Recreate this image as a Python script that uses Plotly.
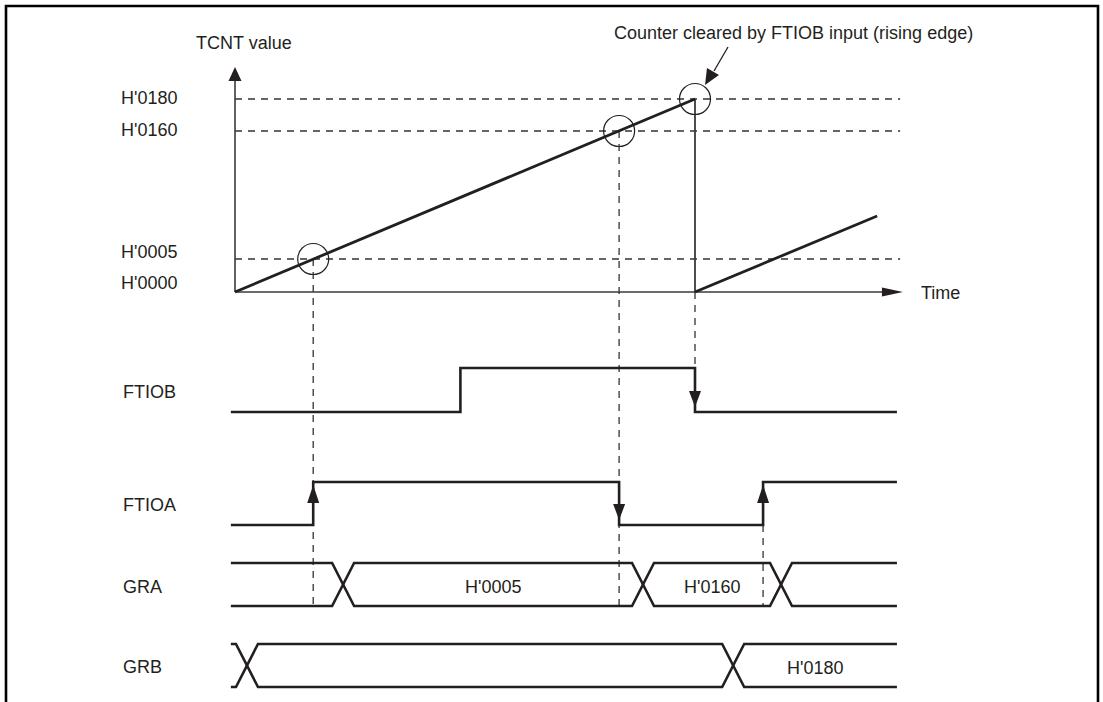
import plotly.graph_objects as go

# ---------------- data (schematic time units; 0 = counter start, 100 = counter clear) ----------------
T_START = -0.9
T_END = 143.9
T_AXIS_END = 145.2

# TCNT counter waveform (time, display level)
tcnt_time = [0, 100, 100, 139.6]
tcnt_level = [292, 99, 292, 216]          # display level of H'0000 ... H'0180
tcnt_labels = ["H'0180", "H'0160", "H'0005", "H'0000"]
tcnt_label_levels = [99, 131, 259, 292]
ref_levels = [99, 131, 259]                # dashed reference lines

# compare-match / clear events
match_times = [17, 83.5, 100]              # H'0005 match, H'0160 match, clear by FTIOB
match_levels = [259, 131, 99]

# FTIOB input
ftiob_time = [T_START, 49, 49, 100, 100, T_END]
ftiob_state = [0, 0, 1, 1, 0, 0]
# FTIOA output
ftioa_time = [T_START, 17, 17, 83.5, 83.5, 114.8, 114.8, T_END]
ftioa_state = [0, 0, 1, 1, 0, 0, 1, 1]

# bus transitions
gra_cross = [23.5, 88.7, 118.7]
gra_values = ["", "H'0005", "H'0160", ""]
grb_cross = [2.6, 108.3]
grb_values = ["", "", "H'0180"]

signal_names = ["FTIOB", "FTIOA", "GRA", "GRB"]

# ---------------- layout constants ----------------
W, H = 1103, 702
PXU = 4.6                  # pixels per time unit
X0PX = 235                 # pixel of t = 0
xr = [-X0PX / PXU, (W - X0PX) / PXU]
INK = "#231f20"
DASH_C = "#333333"
FONT = dict(family="Liberation Sans, Arial, Helvetica, sans-serif", size=18, color=INK)

ROW = {"FTIOB": (412, 368), "FTIOA": (525, 482), "GRA": (563, 606), "GRB": (644, 687)}
LABEL_Y = {"FTIOB": 392, "FTIOA": 505, "GRA": 587, "GRB": 667}
XH = 11 / PXU              # half-width of bus crossing


def tu(px):
    return px / PXU


fig = go.Figure()
shapes = []
annotations = []
DASH = dict(color=DASH_C, width=1.3, dash="7px,6px")

# dashed reference lines
for lv in ref_levels:
    fig.add_trace(go.Scatter(x=[0, 144.6], y=[lv, lv], mode="lines", line=DASH, hoverinfo="skip"))

# vertical dashed event lines
vd = [(17, 259, 606), (83.5, 131, 606), (100, 292, 368), (114.8, 525, 606)]
for t, y0, y1 in vd:
    fig.add_trace(go.Scatter(x=[t, t], y=[y0, y1], mode="lines", line=DASH, hoverinfo="skip"))

# axes
fig.add_trace(go.Scatter(x=[0, 0, None, 0, T_AXIS_END - tu(18)], y=[292, 80, None, 292, 292], mode="lines",
                         line=dict(color="#3a3a3a", width=1.6), hoverinfo="skip"))
# axis arrowheads
shapes.append(dict(type="path", xref="x", yref="y",
                   path=f"M {0} 67 L {tu(-6.5)} 81 L {tu(6.5)} 81 Z", fillcolor=INK, line=dict(width=0)))
shapes.append(dict(type="path", xref="x", yref="y",
                   path=f"M {T_AXIS_END} 292 L {T_AXIS_END - tu(21)} 287.5 L {T_AXIS_END - tu(21)} 296.5 Z",
                   fillcolor=INK, line=dict(width=0)))

# counter drop (thinner) and ramps
fig.add_trace(go.Scatter(x=[100, 100], y=[99, 292], mode="lines",
                         line=dict(color="#3a3a3a", width=1.8), hoverinfo="skip"))
fig.add_trace(go.Scatter(x=[tcnt_time[0], tcnt_time[1], None, tcnt_time[2], tcnt_time[3]],
                         y=[tcnt_level[0], tcnt_level[1], None, tcnt_level[2], tcnt_level[3]],
                         mode="lines", line=dict(color=INK, width=2.8), hoverinfo="skip"))

# circles at match points
R = 15.5
for t, lv in zip(match_times, match_levels):
    shapes.append(dict(type="circle", xref="x", yref="y", x0=t - tu(R), x1=t + tu(R), y0=lv - R, y1=lv + R,
                       line=dict(color=INK, width=1.2)))

# TCNT level labels
for lab, lv in zip(tcnt_labels, tcnt_label_levels):
    off = {"H'0000": -9, "H'0005": -7, "H'0160": -1, "H'0180": -1}[lab]
    annotations.append(dict(x=tu(179 - X0PX), y=lv + off, text=lab, showarrow=False, xanchor="right",
                            yanchor="middle", font=FONT))

annotations.append(dict(x=tu(244 - X0PX), y=43, text="TCNT value", showarrow=False, xanchor="center",
                        yanchor="middle", font=FONT))
annotations.append(dict(x=tu(919 - X0PX), y=293, text="Time", showarrow=False, xanchor="left",
                        yanchor="middle", font=FONT))
annotations.append(dict(x=tu(612 - X0PX), y=33, text="Counter cleared by FTIOB input (rising edge)",
                        showarrow=False, xanchor="left", yanchor="middle", font=FONT))
# pointer to clear point
fig.add_trace(go.Scatter(x=[tu(728 - X0PX), tu(714 - X0PX)], y=[47, 71], mode="lines",
                         line=dict(color=INK, width=1.3), hoverinfo="skip"))
tipx, tipy = tu(705 - X0PX), 85
shapes.append(dict(type="path", xref="x", yref="y",
                   path=f"M {tipx} {tipy} L {tu(707 - X0PX)} 68 L {tu(719 - X0PX)} 75 Z",
                   fillcolor=INK, line=dict(width=0)))

# digital signals
for name, times, states in [("FTIOB", ftiob_time, ftiob_state), ("FTIOA", ftioa_time, ftioa_state)]:
    lo, hi = ROW[name]
    ys = [hi if s else lo for s in states]
    fig.add_trace(go.Scatter(x=times, y=ys, mode="lines", line=dict(color=INK, width=2.6),
                             hoverinfo="skip"))
    # edge arrows on events triggered by counter
    for i in range(1, len(times)):
        if times[i] == times[i - 1] and times[i] in match_times + [114.8]:
            t = times[i]
            up = states[i] > states[i - 1]
            if up:
                tip = hi + 3
                base = tip + 18
            else:
                tip = lo - 5
                base = tip - 16
            shapes.append(dict(type="path", xref="x", yref="y",
                               path=f"M {t} {tip} L {t - tu(6)} {base} L {t + tu(6)} {base} Z",
                               fillcolor=INK, line=dict(width=0)))


# bus signals
def bus(name, cross, values):
    top, bot = ROW[name]
    la_x, la_y, lb_x, lb_y = [T_START], [top], [T_START], [bot]
    cur_a, cur_b = top, bot
    for c in cross:
        la_x += [c - XH, c + XH]
        la_y += [cur_a, cur_b]
        lb_x += [c - XH, c + XH]
        lb_y += [cur_b, cur_a]
        cur_a, cur_b = cur_b, cur_a
    la_x.append(T_END); la_y.append(cur_a)
    lb_x.append(T_END); lb_y.append(cur_b)
    fig.add_trace(go.Scatter(x=la_x + [None] + lb_x, y=la_y + [None] + lb_y, mode="lines",
                             line=dict(color=INK, width=2.6), hoverinfo="skip"))
    edges = [T_START] + cross + [T_END]
    for i, v in enumerate(values):
        if v:
            annotations.append(dict(x=(edges[i] + edges[i + 1]) / 2, y=(top + bot) / 2 + 2, text=v,
                                    showarrow=False, xanchor="center", yanchor="middle", font=FONT))


bus("GRA", gra_cross, gra_values)
bus("GRB", grb_cross, grb_values)

for name in signal_names:
    annotations.append(dict(x=tu(121 - X0PX), y=LABEL_Y[name], text=name, showarrow=False,
                            xanchor="left", yanchor="middle", font=FONT))

# outer frame
shapes.append(dict(type="rect", xref="paper", yref="paper", x0=6 / W, x1=1098 / W, y0=-0.05, y1=1 - 6 / H,
                   line=dict(color="black", width=2.6)))

fig.update_layout(
    width=W, height=H, margin=dict(l=0, r=0, t=0, b=0),
    paper_bgcolor="white", plot_bgcolor="white", showlegend=False,
    xaxis=dict(range=xr, visible=False, fixedrange=True),
    yaxis=dict(range=[H, 0], visible=False, fixedrange=True),
    shapes=shapes, annotations=annotations,
)
fig.write_html("out.html", config={"displayModeBar": False},
               post_script="document.body.style.margin='0';document.body.style.overflow='hidden';")
